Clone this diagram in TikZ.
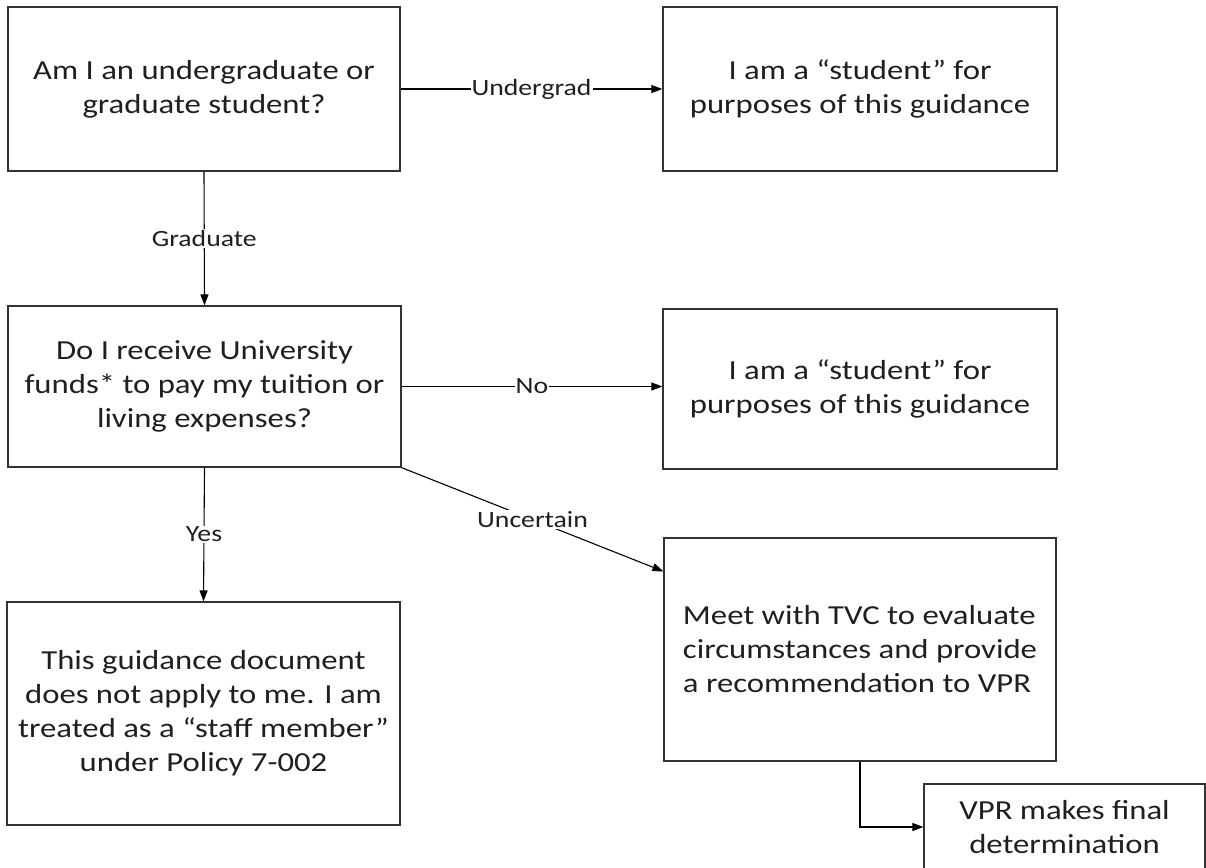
\documentclass[tikz,border=0pt]{standalone}
\usepackage{fontspec}
\setmainfont{Carlito}[FakeStretch=1.19]
\usetikzlibrary{arrows.meta,calc}
\begin{document}
\begin{tikzpicture}[x=1pt,y=-1pt,
  box/.style={draw=black!80, line width=1.3pt, align=center, inner sep=0pt,
    text=black!88, font=\fontsize{27.5}{34}\selectfont},
  conn/.style={draw=black, line width=1.1pt},
  arr/.style={conn, -{Triangle[length=11pt,width=8pt]}},
  lbl/.style={fill=white, inner sep=1pt, text=black!88, font=\fontsize{23.3}{28}\selectfont}]
\path[use as bounding box] (0,0) rectangle (1206,867);
\clip (0,0) rectangle (1206,867);
\node[box, minimum width=392pt, minimum height=164pt] (A) at (204,89)
  {Am I an undergraduate or\\graduate student?};
\node[box, minimum width=394pt, minimum height=164pt] (B) at (860,89)
  {I am a “student” for\\purposes of this guidance};
\node[box, minimum width=393pt, minimum height=161pt] (C) at (204.5,386.5)
  {Do I receive University\\funds* to pay my tuition or\\living expenses?};
\node[box, minimum width=394pt, minimum height=160pt] (D) at (860,389)
  {I am a “student” for\\purposes of this guidance};
\node[box, minimum width=393pt, minimum height=223pt] (E) at (203.5,713.5)
  {This guidance document\\does not apply to me. I am\\treated as a “staff member”\\under Policy 7-002};
\node[box, align=left, minimum width=392pt, minimum height=223pt] (F) at (860,649.5)
  {Meet with TVC to evaluate\\circumstances and provide\\a recommendation to VPR};
\node[box, minimum width=281pt, minimum height=86pt] (G) at (1064.5,827)
  {VPR makes final\\determination};
\coordinate (Fin) at ($(F.north west)+(0,34)$);
\draw[arr] (A.east) -- node[lbl]{Undergrad} (A.east -| B.west);
\draw[arr] (A.south) -- node[lbl]{Graduate} (C.north);
\draw[arr] (C.east) -- node[lbl]{No} (C.east -| D.west);
\draw[arr] (C.south) -- node[lbl]{Yes} (E.north);
\draw[arr] (C.south east) -- node[lbl]{Uncertain} (Fin);
\draw[arr] (F.south) |- (G.west);
\end{tikzpicture}
\end{document}
